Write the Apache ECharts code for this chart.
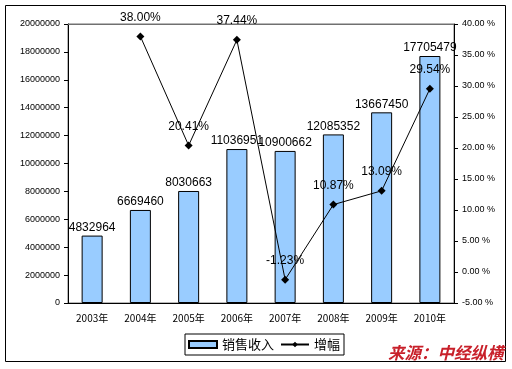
<!DOCTYPE html>
<html><head><meta charset="utf-8">
<script src="https://cdn.jsdelivr.net/npm/echarts@6/dist/echarts.min.js"></script>
<style>html,body{margin:0;padding:0;background:#fff}#c{width:512px;height:369px}</style>
</head><body><div id="c"></div>
<script>
var categories = ['2003年','2004年','2005年','2006年','2007年','2008年','2009年','2010年'];
var revenue = [4832964, 6669460, 8030663, 11036951, 10900662, 12085352, 13667450, 17705479];
var growth = [null, 38.00, 20.41, 37.44, -1.23, 10.87, 13.09, 29.54];
var seriesNames = ['销售收入', '增幅'];
var sourceText = '来源：中经纵横';
var leftMax = 20000000;

var chart = echarts.init(document.getElementById('c'));
var baseFont = 'Liberation Sans, Arial, sans-serif';
chart.setOption({
  animation: false,
  textStyle: {fontFamily: baseFont},
  grid: {left: 68, right: 58, top: 24, bottom: 66, show: true,
         borderColor: '#707070', borderWidth: 1, backgroundColor: 'rgba(0,0,0,0)'},
  legend: {
    data: [
      {name: seriesNames[0], icon: 'rect'},
      {name: seriesNames[1]}
    ],
    left: 185, top: 334,
    itemWidth: 28, itemHeight: 7, itemGap: 6,
    padding: [4, 4, 4, 3],
    borderColor: '#000', borderWidth: 1,
    textStyle: {fontSize: 13, color: '#000', fontFamily: 'Noto Sans CJK SC'}
  },
  xAxis: {
    type: 'category', data: categories,
    axisLine: {onZero: false, lineStyle: {color: '#000'}},
    axisTick: {inside: true, length: 4, lineStyle: {color: '#000'}},
    axisLabel: {fontSize: 10, color: '#000', margin: 10, fontFamily: 'Noto Sans CJK SC'}
  },
  yAxis: [{
    type: 'value', min: 0, max: leftMax, interval: 2000000,
    axisLine: {show: true, lineStyle: {color: '#000'}},
    axisTick: {show: true, length: 4, lineStyle: {color: '#000'}},
    splitLine: {show: false},
    axisLabel: {fontSize: 9, color: '#000', margin: 8,
      formatter: function (v) { return String(v); }}
  }, {
    type: 'value', min: -5, max: 40, interval: 5,
    axisLine: {show: true, lineStyle: {color: '#000'}},
    axisTick: {show: true, length: 4, lineStyle: {color: '#000'}},
    splitLine: {show: false},
    axisLabel: {fontSize: 9, color: '#000', margin: 8,
      formatter: function (v) { return v.toFixed(2) + ' %'; }}
  }],
  series: [{
    name: seriesNames[0], type: 'bar', data: revenue, barWidth: 21,
    itemStyle: {color: '#99CCFF', borderColor: '#000', borderWidth: 1},
    label: {show: true, position: 'top', distance: 2, fontSize: 12, color: '#000'},
    markLine: {
      silent: true, symbol: 'none', label: {show: false},
      lineStyle: {color: '#707070', type: 'solid', width: 1},
      data: [{yAxis: leftMax}]
    }
  }, {
    name: seriesNames[1], type: 'line', yAxisIndex: 1, data: growth,
    connectNulls: false,
    symbol: 'diamond', symbolSize: 8,
    lineStyle: {color: '#000', width: 1},
    itemStyle: {color: '#000'},
    label: {show: true, position: 'top', distance: 9, fontSize: 12, color: '#000',
      formatter: function (p) { return p.value.toFixed(2) + '%'; }}
  }],
  graphic: [{
    type: 'rect', shape: {x: 5.5, y: 5.5, width: 500, height: 356},
    style: {fill: 'none', stroke: '#000', lineWidth: 1}, z: -1
  }, {
    type: 'text', left: 388, top: 344,
    style: {text: sourceText, fill: '#C8202A', font: 'italic bold 16.5px "Noto Sans CJK SC"'}
  }]
});
</script></body></html>
